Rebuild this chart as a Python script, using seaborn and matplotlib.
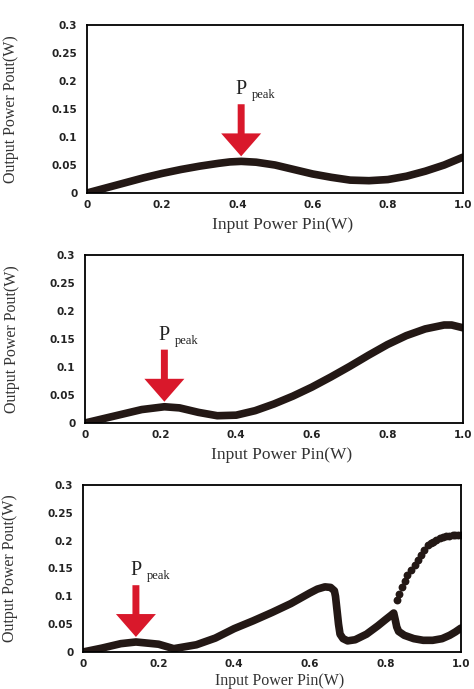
import matplotlib
matplotlib.use("Agg")
import matplotlib.pyplot as plt
from matplotlib.patches import FancyArrowPatch, ArrowStyle
import numpy as np
import pandas as pd
import seaborn as sns

# ---- data: output power vs input power for three cases ----
pin_a = [0, 0.05, 0.1, 0.15, 0.2, 0.25, 0.3, 0.35, 0.38, 0.41, 0.45, 0.5,
         0.55, 0.6, 0.65, 0.7, 0.75, 0.8, 0.85, 0.9, 0.95, 1.0]
pout_a = [0, 0.009, 0.018, 0.027, 0.035, 0.042, 0.048, 0.053, 0.0555,
          0.0565, 0.055, 0.050, 0.042, 0.034, 0.028, 0.023, 0.022, 0.024,
          0.030, 0.039, 0.050, 0.064]

pin_b = [0, 0.05, 0.1, 0.15, 0.21, 0.25, 0.3, 0.35, 0.4, 0.45, 0.5, 0.55,
         0.6, 0.65, 0.7, 0.75, 0.8, 0.85, 0.9, 0.95, 0.97, 1.0]
pout_b = [0, 0.008, 0.016, 0.024, 0.029, 0.027, 0.019, 0.013, 0.014, 0.022,
          0.034, 0.048, 0.064, 0.082, 0.101, 0.121, 0.140, 0.156, 0.168,
          0.175, 0.175, 0.170]

pin_c = [0, 0.05, 0.1, 0.14, 0.2, 0.24, 0.3, 0.35, 0.4, 0.45, 0.5, 0.55,
         0.6, 0.62, 0.64, 0.655, 0.665, 0.668, 0.672, 0.676, 0.680, 0.688,
         0.70, 0.72, 0.75, 0.78, 0.80, 0.815, 0.822, 0.826, 0.83, 0.835,
         0.85, 0.875, 0.9, 0.925, 0.95, 0.97, 0.985, 1.0]
pout_c = [0, 0.007, 0.015, 0.018, 0.014, 0.006, 0.013, 0.025, 0.042, 0.056,
          0.071, 0.087, 0.106, 0.113, 0.117, 0.116, 0.110, 0.100, 0.075,
          0.050, 0.032, 0.024, 0.020, 0.022, 0.032, 0.047, 0.058, 0.066,
          0.070, 0.058, 0.045, 0.037, 0.030, 0.024, 0.021, 0.021, 0.024,
          0.030, 0.036, 0.043]

# upper (high-output) branch of the third case
pin_c_hi = [0.830, 0.837, 0.843, 0.852, 0.858, 0.868, 0.877, 0.885, 0.893,
            0.902, 0.914, 0.920, 0.925, 0.935, 0.945, 0.952, 0.960, 0.968,
            0.978, 0.985, 0.993, 1.0]
pout_c_hi = [0.093, 0.105, 0.117, 0.128, 0.138, 0.147, 0.156, 0.165, 0.174,
             0.183, 0.192, 0.195, 0.198, 0.202, 0.205, 0.207, 0.208, 0.209,
             0.210, 0.210, 0.210, 0.210]

x_ticks = [0, 0.2, 0.4, 0.6, 0.8, 1.0]
x_tick_labels = ["0", "0.2", "0.4", "0.6", "0.8", "1.0"]
y_ticks = [0, 0.05, 0.1, 0.15, 0.2, 0.25, 0.3]
y_tick_labels = ["0", "0.05", "0.1", "0.15", "0.2", "0.25", "0.3"]

CURVE = "#231815"
ARROW = "#d9182b"

sns.set_theme(style="white")
plt.rcParams["font.family"] = ["DejaVu Sans"]

fig = plt.figure(figsize=(4.74, 6.89), dpi=100)

# axes rectangles [left, bottom, width, height] in figure fractions
rects = [
    [87 / 474, 496 / 689, 376 / 474, 168 / 689],
    [85 / 474, 266 / 689, 378 / 474, 168 / 689],
    [83 / 474, 37 / 689, 378 / 474, 167 / 689],
]
label_x = [-0.181, -0.172, -0.172]
xlabel_y = [-0.145, -0.145, -0.125]
xlabel_size = [12.5, 12.5, 11.5]
peak_limit = [0.6, 0.3, 0.2]

series = [(pin_a, pout_a), (pin_b, pout_b), (pin_c, pout_c)]

for i, (rect, (px, py)) in enumerate(zip(rects, series)):
    ax = fig.add_axes(rect)
    df = pd.DataFrame({"Pin": px, "Pout": py})
    sns.lineplot(data=df, x="Pin", y="Pout", ax=ax, color=CURVE,
                 linewidth=5.5, sort=False, estimator=None,
                 solid_capstyle="round", solid_joinstyle="round")
    if i == 2:
        df_hi = pd.DataFrame({"Pin": pin_c_hi, "Pout": pout_c_hi})
        sns.scatterplot(data=df_hi, x="Pin", y="Pout", ax=ax, color=CURVE,
                        s=32, linewidth=0, marker="o")

    ax.set_xlim(0, 1.0)
    ax.set_ylim(0, 0.3)
    ax.set_xticks(x_ticks)
    ax.set_xticklabels(x_tick_labels)
    ax.set_yticks(y_ticks)
    ax.set_yticklabels(y_tick_labels)
    ax.tick_params(axis="both", direction="in", length=4, width=1.2,
                   color="black", labelsize=7.5, labelcolor="#222222")
    ax.tick_params(axis="y", pad=7)
    ax.tick_params(axis="x", pad=5)
    for lab in ax.get_xticklabels() + ax.get_yticklabels():
        lab.set_fontweight("bold")
    for sp in ax.spines.values():
        sp.set_visible(True)
        sp.set_color("black")
        sp.set_linewidth(1.3)

    ax.set_xlabel("Input Power Pin(W)", family="Liberation Serif",
                  fontsize=xlabel_size[i], color="#333333")
    ax.xaxis.set_label_coords(0.52, xlabel_y[i])
    ax.xaxis.label.set_va("top")
    ax.set_ylabel("Output Power Pout(W)", family="Liberation Serif",
                  fontsize=11.5, color="#333333")
    ax.yaxis.set_label_coords(label_x[i], 0.5)

    # arrow pointing down at the low-power peak of the curve
    xs = np.array(px)
    ys = np.array(py)
    mask = xs <= peak_limit[i]
    k = np.argmax(np.where(mask, ys, -1))
    peak_x, peak_y = xs[k], ys[k]
    tip = peak_y + 0.009
    tail = tip + 0.093
    arrow = FancyArrowPatch(
        (peak_x, tail), (peak_x, tip),
        arrowstyle=ArrowStyle.Simple(head_length=16.5, head_width=28.8,
                                     tail_width=5.0),
        mutation_scale=1, shrinkA=0, shrinkB=0,
        color=ARROW, linewidth=0, zorder=5)
    ax.add_patch(arrow)
    ax.annotate("P", xy=(peak_x, tail), xytext=(0, 7.2),
                textcoords="offset points", ha="center", va="baseline",
                family="Liberation Serif", fontsize=14.5, color="#222222")
    ax.annotate("peak", xy=(peak_x, tail), xytext=(7.6, 4.3),
                textcoords="offset points", ha="left", va="baseline",
                family="Liberation Serif", fontsize=9, color="#222222")

fig.savefig("out.png", dpi=100)
